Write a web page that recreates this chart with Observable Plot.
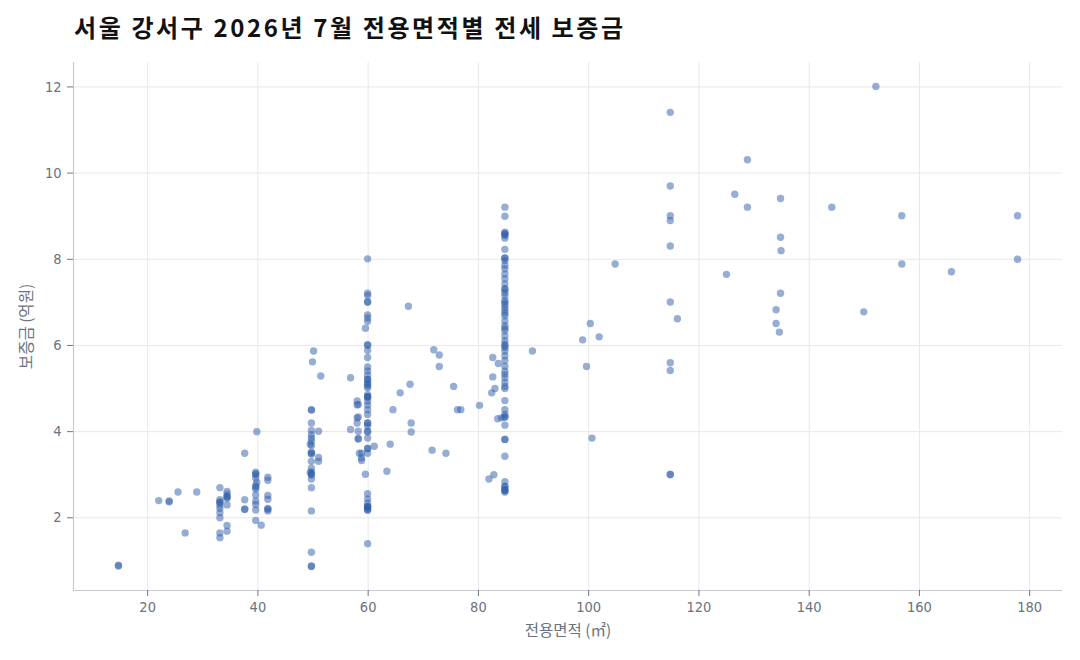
<!DOCTYPE html>
<html><head><meta charset="utf-8">
<script src="https://cdn.jsdelivr.net/npm/d3@7"></script>
<script src="https://cdn.jsdelivr.net/npm/@observablehq/plot@0.6"></script>
<style>
body{margin:0;background:#fff;font-family:"Noto Sans CJK KR","Noto Sans",sans-serif;}
#title{height:50px;box-sizing:border-box;padding:13px 0 0 74px;font-size:24px;letter-spacing:2.6px;font-weight:700;color:#111;line-height:1.2;white-space:nowrap;}
</style></head><body>
<div id="title"></div>
<div id="chart"></div>
<script>
const titleText = "서울 강서구 2026년 7월 전용면적별 전세 보증금";
const xLabel = "전용면적 (㎡)";
const yLabel = "보증금 (억원)";
const xTicks = [20, 40, 60, 80, 100, 120, 140, 160, 180];
const yTicks = [2, 4, 6, 8, 10, 12];

const area = [
  14.7, 14.7, 22.0, 23.9, 23.9, 25.5, 26.8, 28.9,
  33.1, 33.1, 33.1, 33.1, 33.1, 33.1, 33.1, 33.1, 33.1, 33.1,
  34.4, 34.4, 34.4, 34.4, 34.4, 34.4, 34.4, 34.4,
  37.6, 37.6, 37.6, 37.6,
  39.6, 39.6, 39.6, 39.6, 39.6, 39.6, 39.6, 39.6, 39.6, 39.6, 39.6, 39.6,
  39.8, 39.8, 40.6,
  41.8, 41.8, 41.8, 41.8, 41.8, 41.8, 41.8,
  49.7, 49.7, 49.7, 49.7, 49.7, 49.7, 49.7, 49.7, 49.7, 49.7, 49.7, 49.7, 49.7, 49.7, 49.7, 49.7, 49.7, 49.7, 49.7, 49.7, 49.7, 49.7,
  49.5, 49.5, 50.1, 49.9, 51.4, 51.0, 51.0, 51.0,
  56.8, 56.8,
  58.0, 58.0, 58.0, 58.0, 58.2, 58.2, 58.8, 58.8, 58.8, 58.2, 58.2, 58.2, 58.4,
  59.5, 59.5,
  59.9, 59.9, 59.9, 59.9, 59.9, 59.9, 59.9, 59.9, 59.9, 59.9, 59.9, 59.9, 59.9, 59.9, 59.9, 59.9,
  59.9, 59.9, 59.9, 59.9, 59.9, 59.9, 59.9, 59.9, 59.9, 59.9, 59.9, 59.9, 59.9, 59.9, 59.9, 59.9,
  59.9, 59.9, 59.9, 59.9, 59.9, 59.9, 59.9, 59.9, 59.9, 59.9, 59.9, 59.9, 59.9, 59.9, 59.9, 59.9,
  61.1, 64.0, 63.4, 64.5, 65.8, 67.6, 67.8, 67.8, 67.3,
  71.9, 72.9, 72.9, 71.6, 74.1, 75.5, 76.2, 76.8, 80.2,
  82.6, 82.6, 83.6, 83.0, 82.4, 83.5, 84.2, 81.9, 82.8,
  84.8, 84.8, 84.8, 84.8, 84.8, 84.8, 84.8, 84.8, 84.8, 84.8, 84.8, 84.8, 84.8, 84.8, 84.8, 84.8,
  84.8, 84.8, 84.8, 84.8, 84.8, 84.8, 84.8, 84.8, 84.8, 84.8, 84.8, 84.8, 84.8, 84.8, 84.8, 84.8,
  84.8, 84.8, 84.8, 84.8, 84.8, 84.8, 84.8, 84.8, 84.8, 84.8, 84.8, 84.8, 84.8, 84.8, 84.8, 84.8,
  84.8, 84.8, 84.8, 84.8, 84.8, 84.8, 84.8, 84.8, 84.8, 84.8, 84.8, 84.8, 84.8, 84.8,
  89.8, 98.9, 99.6, 100.3, 100.6, 101.9, 104.8,
  114.8, 114.8, 114.8, 114.8, 114.8, 114.8, 114.8, 114.8, 114.8, 114.8,
  116.1, 125.0, 126.5, 128.8, 128.8,
  134.0, 134.0, 134.6, 134.8, 134.8, 134.8, 134.9,
  144.1, 149.9, 152.1, 156.8, 156.8, 165.8, 177.8, 177.8
];
const deposit = [
  0.88, 0.90, 2.40, 2.37, 2.39, 2.60, 1.65, 2.60,
  2.70, 2.42, 2.36, 2.36, 2.30, 2.22, 2.12, 2.00, 1.65, 1.54,
  2.61, 2.49, 2.49, 2.45, 2.30, 1.82, 1.69, 2.55,
  3.50, 2.42, 2.20, 2.20,
  3.06, 3.00, 2.92, 2.71, 2.67, 2.53, 2.39, 2.31, 2.18, 1.94, 3.02, 2.75,
  4.00, 2.82, 1.83,
  2.94, 2.87, 2.52, 2.43, 2.20, 2.16, 2.22,
  4.51, 4.50, 4.20, 4.03, 3.93, 3.85, 3.78, 3.68, 3.52, 3.50, 3.48, 3.31, 3.15, 3.06, 3.00, 3.01, 2.90, 2.70, 2.16, 1.20, 0.88, 0.87,
  3.71, 3.05, 5.87, 5.62, 5.29, 4.01, 3.40, 3.31,
  5.25, 4.05,
  4.71, 4.62, 4.32, 4.20, 4.01, 3.83, 3.50, 3.39, 3.33, 4.63, 4.34, 3.84, 3.50,
  6.40, 3.01,
  8.01, 7.21, 7.16, 7.01, 7.01, 6.71, 6.64, 6.56, 6.01, 6.01, 5.89, 5.72, 5.50, 5.41, 5.31, 5.21,
  5.21, 5.10, 5.02, 4.81, 4.81, 4.80, 4.71, 4.62, 4.51, 4.40, 4.20, 4.20, 4.13, 3.99, 4.01, 3.85,
  3.61, 3.61, 3.50, 2.56, 2.44, 2.34, 2.26, 2.26, 2.26, 2.18, 2.18, 2.22, 1.40, 4.86, 5.14, 5.06,
  3.66, 3.71, 3.08, 4.51, 4.90, 5.10, 4.20, 3.99, 6.91,
  5.90, 5.78, 5.51, 3.57, 3.50, 5.05, 4.51, 4.51, 4.61,
  5.72, 5.27, 5.58, 5.00, 4.90, 4.30, 4.32, 2.90, 3.00,
  9.21, 9.00, 8.63, 8.55, 8.49, 8.23, 8.03, 8.03, 7.97, 7.86, 7.78, 7.66, 7.55, 7.43, 7.31, 7.31,
  7.23, 7.16, 7.00, 6.88, 6.81, 6.69, 6.57, 6.46, 6.34, 6.22, 6.11, 5.99, 5.87, 6.03, 5.76, 5.52,
  5.33, 5.14, 5.00, 4.72, 4.51, 4.34, 4.34, 4.15, 3.82, 3.82, 3.43, 2.84, 2.73, 2.73, 2.65, 2.65,
  2.62, 2.60, 5.95, 5.65, 5.40, 5.25, 5.05, 4.40, 6.95, 6.75, 6.40, 7.05, 8.58, 8.60,
  5.87, 6.13, 5.51, 6.51, 3.85, 6.20, 7.89,
  11.41, 9.70, 9.01, 8.90, 8.31, 7.01, 5.60, 5.42, 3.00, 3.01,
  6.62, 7.65, 9.51, 10.31, 9.21,
  6.83, 6.51, 6.31, 9.41, 8.51, 7.21, 8.20,
  9.21, 6.78, 12.01, 9.01, 7.89, 7.71, 9.01, 8.00
];

document.getElementById("title").textContent = titleText;

const data = area.map((a, i) => ({area: a, deposit: deposit[i]}));

function expand(ext, f) { const d = (ext[1] - ext[0]) * f; return [ext[0] - d, ext[1] + d]; }
const xDom = expand(d3.extent(area), 0.05);
const yDom = expand(d3.extent(deposit), 0.05);

const axisColor = "#c7cbd3";
const gridColor = "#e8e8e8";
const textColor = "#6b7280";
const tickFont = "'Liberation Sans Narrow', 'DejaVu Sans Condensed', 'Noto Sans', sans-serif";

const chart = Plot.plot({
  width: 1080,
  height: 600,
  marginLeft: 73,
  marginRight: 18,
  marginTop: 12,
  marginBottom: 60,
  x: {domain: xDom},
  y: {domain: yDom},
  style: {fontFamily: "'Noto Sans CJK KR', 'Noto Sans', sans-serif", fontSize: "13px", color: textColor, background: "white"},
  marks: [
    Plot.gridX(xTicks, {stroke: gridColor, strokeOpacity: 1, strokeWidth: 1}),
    Plot.gridY(yTicks, {stroke: gridColor, strokeOpacity: 1, strokeWidth: 1}),
    Plot.ruleX([xDom[0]], {stroke: axisColor, strokeWidth: 1.2}),
    Plot.ruleY([yDom[0]], {stroke: axisColor, strokeWidth: 1.2}),
    Plot.axisX(xTicks, {label: null, tickSize: 6, tickPadding: 5, stroke: "#6f747e", fill: textColor, fontSize: 14.5, fontFamily: tickFont}),
    Plot.axisY(yTicks, {label: null, tickSize: 6, tickPadding: 6, stroke: "#6f747e", fill: textColor, fontSize: 14.5, fontFamily: tickFont}),
    Plot.dot(data, {x: "area", y: "deposit", r: 3.7, fill: "#2f5da9", fillOpacity: 0.5, stroke: null}),
    Plot.text([xLabel], {frameAnchor: "bottom", textAnchor: "middle", dy: 45, fill: textColor, fontSize: 15.5}),
    Plot.text([yLabel], {frameAnchor: "left", textAnchor: "middle", dx: -46, rotate: -90, fill: textColor, fontSize: 15.5})
  ]
});
document.getElementById("chart").appendChild(chart);
</script>
</body></html>
